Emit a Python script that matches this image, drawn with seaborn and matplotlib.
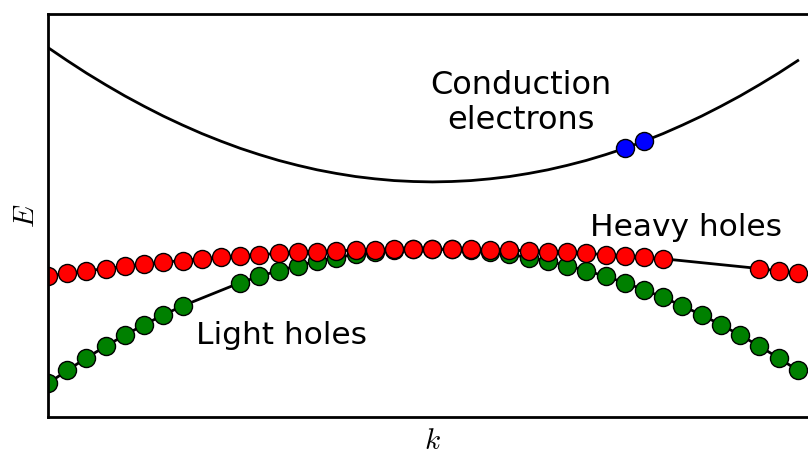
import matplotlib
matplotlib.use("Agg")
import matplotlib.pyplot as plt
import seaborn as sns
import pandas as pd

# ---- data ----
k = [-1.00, -0.95, -0.90, -0.85, -0.80, -0.75, -0.70, -0.65, -0.60, -0.55,
     -0.50, -0.45, -0.40, -0.35, -0.30, -0.25, -0.20, -0.15, -0.10, -0.05,
      0.00,  0.05,  0.10,  0.15,  0.20,  0.25,  0.30,  0.35,  0.40,  0.45,
      0.50,  0.55,  0.60,  0.65,  0.70,  0.75,  0.80,  0.85,  0.90,  0.95]

E_conduction = [1.500, 1.403, 1.310, 1.223, 1.140, 1.063, 0.990, 0.923, 0.860, 0.803,
                0.750, 0.703, 0.660, 0.623, 0.590, 0.563, 0.540, 0.523, 0.510, 0.503,
                0.500, 0.503, 0.510, 0.523, 0.540, 0.563, 0.590, 0.623, 0.660, 0.703,
                0.750, 0.803, 0.860, 0.923, 0.990, 1.063, 1.140, 1.223, 1.310, 1.403]

E_light = [-1.000, -0.903, -0.810, -0.723, -0.640, -0.563, -0.490, -0.423, -0.360, -0.303,
           -0.250, -0.203, -0.160, -0.123, -0.090, -0.063, -0.040, -0.023, -0.010, -0.003,
            0.000, -0.003, -0.010, -0.023, -0.040, -0.063, -0.090, -0.123, -0.160, -0.203,
           -0.250, -0.303, -0.360, -0.423, -0.490, -0.563, -0.640, -0.723, -0.810, -0.903]

E_heavy = [-0.200, -0.181, -0.162, -0.145, -0.128, -0.113, -0.098, -0.085, -0.072, -0.061,
           -0.050, -0.041, -0.032, -0.025, -0.018, -0.013, -0.008, -0.005, -0.002, -0.001,
            0.000, -0.001, -0.002, -0.005, -0.008, -0.013, -0.018, -0.025, -0.032, -0.041,
           -0.050, -0.061, -0.072, -0.085, -0.098, -0.113, -0.128, -0.145, -0.162, -0.181]

light_empty_k = [-0.60, -0.55]
heavy_empty_k = [0.65, 0.70, 0.75, 0.80]
electron_k = [0.50, 0.55]
electron_E = [0.750, 0.803]

# ---- tables ----
bands = pd.DataFrame({"k": k, "Ec": E_conduction, "Elh": E_light, "Ehh": E_heavy})
light = bands[~bands["k"].round(2).isin(light_empty_k)]
heavy = bands[~bands["k"].round(2).isin(heavy_empty_k)]
electrons = pd.DataFrame({"k": electron_k, "E": electron_E})

plt.rcParams["mathtext.fontset"] = "cm"
fig = plt.figure(figsize=(8.08, 4.55), dpi=100)
W, H = 808, 455
ax = fig.add_axes([48 / W, (H - 417) / H, 769 / W, 403 / H])

MS = 13
sns.lineplot(data=bands, x="k", y="Ec", ax=ax, color="black", lw=2, sort=False,
             estimator=None)
sns.lineplot(data=light, x="k", y="Elh", ax=ax, color="black", lw=2, sort=False,
             estimator=None, marker="o", markersize=MS, markerfacecolor="green",
             markeredgecolor="black", markeredgewidth=1)
sns.lineplot(data=heavy, x="k", y="Ehh", ax=ax, color="black", lw=2, sort=False,
             estimator=None, marker="o", markersize=MS, markerfacecolor="red",
             markeredgecolor="black", markeredgewidth=1)
ax.plot(electrons["k"], electrons["E"], linestyle="none", marker="o", markersize=MS,
        markerfacecolor="blue", markeredgecolor="black", markeredgewidth=1, zorder=4)

ax.set_xlim(-1, 1)
ax.set_ylim(-1.25, 1.75)
ax.set_xticks([])
ax.set_yticks([])
for s in ax.spines.values():
    s.set_linewidth(2)
    s.set_color("black")

ax.set_xlabel("$k$", fontsize=21, labelpad=7)
ax.set_ylabel("$E$", fontsize=21, labelpad=6)

ax.text(0.23, 1.09, "Conduction\nelectrons", fontsize=23, ha="center", va="center",
        linespacing=1.18)
ax.text(0.66, 0.097, "Heavy holes", fontsize=22.5, ha="center", va="baseline")
ax.text(-0.394, -0.705, "Light holes", fontsize=22.5, ha="center", va="baseline")

fig.savefig("out.png", dpi=100)
